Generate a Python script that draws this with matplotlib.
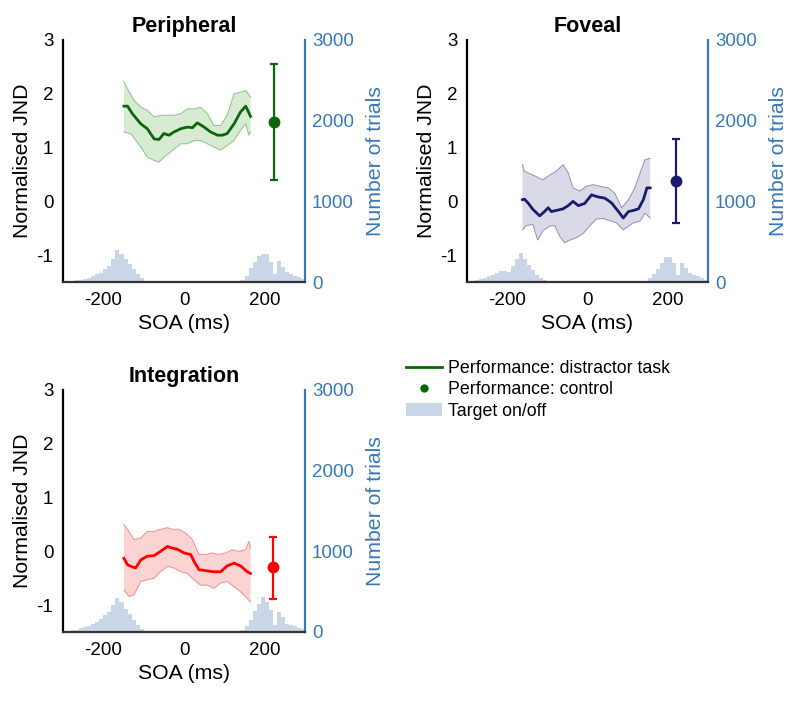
import numpy as np
import matplotlib
matplotlib.use("Agg")
import matplotlib.pyplot as plt
from matplotlib.lines import Line2D
from matplotlib.patches import Patch

plt.rcParams['font.family'] = ['Liberation Sans', 'DejaVu Sans']
plt.rcParams['axes.unicode_minus'] = False

# ---------------- data ----------------
hist_bin_edges = list(range(-300, 301, 10))

periph_hist = [12, 15, 18, 22, 30, 40, 55, 75, 95, 115, 155, 200, 280, 395, 350, 290, 225, 155, 95, 50, 15, 5,
               0, 0, 0, 0, 0, 0, 0, 0, 0, 0, 0, 0, 0, 0, 0, 0, 0, 0, 0, 0, 0,
               10, 30, 80, 175, 250, 320, 350, 350, 250, 100, 260, 190, 130, 100, 80, 60, 40]
foveal_hist = [10, 15, 25, 35, 50, 70, 90, 115, 135, 140, 130, 200, 290, 360, 290, 210, 145, 85, 55, 30, 10, 3,
               0, 0, 0, 0, 0, 0, 0, 0, 0, 0, 0, 0, 0, 0, 0, 0, 0, 0, 0, 0, 0, 0,
               10, 50, 100, 160, 230, 310, 310, 230, 85, 240, 170, 110, 90, 70, 45, 30]
integ_hist = [10, 15, 22, 30, 45, 60, 80, 105, 130, 155, 205, 250, 330, 425, 370, 290, 220, 145, 85, 40, 10, 3,
              0, 0, 0, 0, 0, 0, 0, 0, 0, 0, 0, 0, 0, 0, 0, 0, 0, 0, 0, 0, 0, 0,
              30, 80, 145, 260, 350, 430, 370, 270, 90, 250, 180, 105, 85, 80, 55, 35]

# Peripheral
periph_mean_x = [-149, -140, -128, -107, -91, -74, -62, -50, -37, -25, -8, 8, 21, 33, 50, 66, 83, 95, 107, 124, 140, 153, 165]
periph_mean_y = [1.77, 1.77, 1.63, 1.44, 1.35, 1.16, 1.15, 1.26, 1.23, 1.29, 1.35, 1.38, 1.37, 1.46, 1.38, 1.29, 1.23, 1.23, 1.26, 1.44, 1.66, 1.77, 1.58]
periph_up_x = [-149, -140, -124, -107, -91, -74, -58, -41, -25, -8, 8, 25, 41, 58, 74, 91, 107, 124, 140, 153, 165]
periph_up_y = [2.23, 2.09, 1.88, 1.75, 1.69, 1.57, 1.60, 1.60, 1.60, 1.63, 1.72, 1.72, 1.75, 1.63, 1.41, 1.41, 1.60, 2.00, 2.03, 2.06, 1.94]
periph_lo_x = [-149, -132, -107, -91, -74, -62, -50, -33, -8, 8, 25, 41, 58, 74, 91, 107, 124, 140, 153, 161, 165]
periph_lo_y = [1.29, 1.26, 1.01, 0.82, 0.76, 0.73, 0.82, 0.92, 1.07, 1.07, 1.13, 1.13, 1.07, 1.01, 0.95, 1.04, 1.13, 1.32, 1.44, 1.23, 1.29]
periph_ctrl = (222, 1.47, 1.08, 1.08)

# Foveal
foveal_mean_x = [-162, -157, -148, -136, -119, -107, -98, -90, -78, -61, -48, -36, -23, -7, 10, 27, 43, 60, 77, 89, 102, 114, 127, 139, 148, 156]
foveal_mean_y = [0.03, 0.04, -0.03, -0.15, -0.27, -0.19, -0.12, -0.19, -0.17, -0.14, -0.08, 0.0, -0.08, -0.04, 0.12, 0.08, 0.06, -0.03, -0.19, -0.31, -0.19, -0.17, -0.14, 0.03, 0.25, 0.25]
foveal_up_x = [-162, -157, -136, -111, -94, -78, -61, -48, -36, -19, -3, 14, 31, 52, 68, 85, 102, 118, 131, 143, 156]
foveal_up_y = [0.68, 0.56, 0.49, 0.40, 0.49, 0.56, 0.68, 0.53, 0.25, 0.19, 0.28, 0.31, 0.28, 0.25, 0.15, -0.12, 0.03, 0.25, 0.53, 0.77, 0.80]
foveal_lo_x = [-162, -152, -136, -124, -111, -94, -82, -69, -57, -44, -28, -11, 6, 22, 39, 56, 72, 89, 102, 114, 131, 143, 156]
foveal_lo_y = [-0.53, -0.45, -0.43, -0.72, -0.55, -0.46, -0.45, -0.65, -0.77, -0.72, -0.68, -0.60, -0.45, -0.33, -0.32, -0.36, -0.40, -0.53, -0.46, -0.40, -0.37, -0.22, -0.31]
foveal_ctrl = (220, 0.37, 0.78, 0.78)

# Integration
integ_mean_x = [-149, -140, -128, -120, -107, -91, -74, -58, -41, -29, -17, 0, 17, 25, 37, 54, 74, 91, 107, 124, 140, 157, 165]
integ_mean_y = [-0.13, -0.25, -0.29, -0.31, -0.16, -0.09, -0.08, 0.0, 0.09, 0.06, 0.04, -0.03, -0.06, -0.19, -0.34, -0.36, -0.38, -0.38, -0.27, -0.22, -0.27, -0.38, -0.41]
integ_up_x = [-149, -140, -124, -107, -91, -74, -58, -41, -29, -12, 4, 21, 37, 54, 70, 87, 103, 120, 136, 153, 161, 165]
integ_up_y = [0.50, 0.41, 0.22, 0.25, 0.37, 0.37, 0.41, 0.44, 0.41, 0.41, 0.34, 0.22, -0.06, -0.06, -0.03, -0.06, -0.03, 0.03, 0.0, 0.03, 0.19, 0.06]
integ_lo_x = [-149, -136, -124, -107, -91, -74, -58, -41, -25, -8, 8, 25, 41, 58, 74, 91, 107, 124, 140, 157, 165]
integ_lo_y = [-0.72, -0.84, -0.81, -0.56, -0.53, -0.50, -0.38, -0.28, -0.31, -0.38, -0.41, -0.53, -0.63, -0.63, -0.69, -0.59, -0.56, -0.66, -0.75, -0.88, -0.94]
integ_ctrl = (221, -0.30, 0.58, 0.56)

titles = ["Peripheral", "Foveal", "Integration"]
left_ticks = [-1, 0, 1, 2, 3]
right_ticks = [0, 1000, 2000, 3000]
x_ticks = [-200, 0, 200]

# ---------------- style ----------------
HIST_C = '#c9d6e8'
AX2_C = '#3a78b4'
panels = [
    dict(rect=[63/800, 1-282/704, 242/800, 242/704], title=titles[0], hist=periph_hist,
         mx=periph_mean_x, my=periph_mean_y, ux=periph_up_x, uy=periph_up_y, lx=periph_lo_x, ly=periph_lo_y,
         ctrl=periph_ctrl, c='#0b650b', face='#d6ebd2', edge='#8cc486'),
    dict(rect=[467/800, 1-282/704, 241/800, 242/704], title=titles[1], hist=foveal_hist,
         mx=foveal_mean_x, my=foveal_mean_y, ux=foveal_up_x, uy=foveal_up_y, lx=foveal_lo_x, ly=foveal_lo_y,
         ctrl=foveal_ctrl, c='#1b1b6e', face='#d9d9e8', edge='#9090b8'),
    dict(rect=[63/800, 1-632/704, 242/800, 242/704], title=titles[2], hist=integ_hist,
         mx=integ_mean_x, my=integ_mean_y, ux=integ_up_x, uy=integ_up_y, lx=integ_lo_x, ly=integ_lo_y,
         ctrl=integ_ctrl, c='#ff0000', face='#fbd3d3', edge='#f09090'),
]

fig = plt.figure(figsize=(8, 7.04), dpi=100)

for p in panels:
    ax = fig.add_axes(p['rect'])
    ax2 = ax.twinx()
    ax.set_zorder(ax2.get_zorder() + 1)
    ax.patch.set_visible(False)

    ax2.stairs(p['hist'], hist_bin_edges, fill=True, color=HIST_C, linewidth=0)
    ax2.set_ylim(0, 3000)
    ax2.set_yticks(right_ticks)
    ax2.tick_params(axis='y', length=0, pad=5, labelsize=13.5, labelcolor=AX2_C)
    ax2.set_ylabel('Number of trials', fontsize=15.3, color=AX2_C, labelpad=9)

    # band
    bx = np.r_[p['ux'], p['lx'][::-1]]
    by = np.r_[p['uy'], p['ly'][::-1]]
    ax.fill(bx, by, facecolor=p['face'], edgecolor='none', zorder=2)
    ax.plot(p['ux'], p['uy'], color=p['edge'], lw=0.7, zorder=3)
    ax.plot(p['lx'], p['ly'], color=p['edge'], lw=0.7, zorder=3)
    ax.plot(p['mx'], p['my'], color=p['c'], lw=2.0, zorder=4)
    cx, cy, elo, ehi = p['ctrl']
    ax.errorbar([cx], [cy], yerr=[[elo], [ehi]], fmt='o', color=p['c'], ms=7.5,
                elinewidth=1.6, capsize=3, capthick=1.6, zorder=5)

    ax.set_xlim(-300, 300)
    ax.set_ylim(-1.5, 3)
    ax.set_xticks(x_ticks)
    ax.set_yticks(left_ticks)
    ax.tick_params(axis='both', length=0, labelsize=13.5)
    ax.tick_params(axis='x', pad=7)
    ax.tick_params(axis='y', pad=7)
    ax.set_xlabel('SOA (ms)', fontsize=15.3, labelpad=4)
    ax.set_ylabel('Normalised JND', fontsize=15.3, labelpad=3)
    ax.set_title(p['title'], fontsize=15.5, fontweight='bold', pad=6)

    for a in (ax, ax2):
        a.spines['top'].set_visible(False)
    ax.spines['right'].set_visible(False)
    ax2.spines['left'].set_visible(False)
    ax2.spines['bottom'].set_visible(False)
    ax.spines['left'].set_linewidth(1.6)
    ax.spines['left'].set_color('black')
    ax.spines['bottom'].set_linewidth(1.6)
    ax.spines['bottom'].set_color('#333333')
    ax2.spines['right'].set_linewidth(1.6)
    ax2.spines['right'].set_color(AX2_C)

handles = [Line2D([], [], color='#0b650b', lw=2),
           Line2D([], [], color='#0b650b', marker='o', ms=5, lw=0),
           Patch(facecolor=HIST_C, edgecolor='none')]
labels = ['Performance: distractor task', 'Performance: control', 'Target on/off']
fig.legend(handles, labels, loc='upper left', bbox_to_anchor=(406/800, 1-360/704),
           frameon=False, fontsize=12.8, handlelength=2.0, handletextpad=0.35,
           labelspacing=0.25, borderpad=0, borderaxespad=0)

fig.savefig('out.png', dpi=100)
